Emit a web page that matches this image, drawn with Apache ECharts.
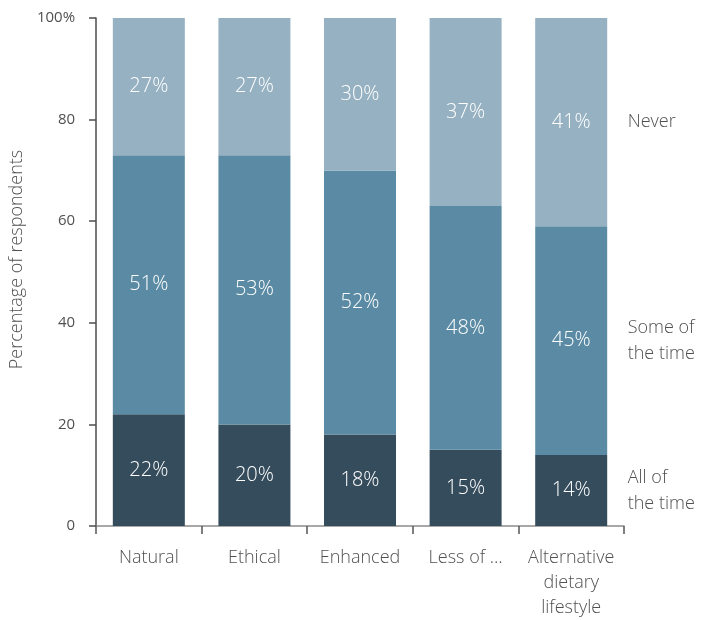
<!DOCTYPE html>
<html>
<head>
<meta charset="utf-8">
<style>
  html, body { margin: 0; padding: 0; background: #fff; overflow: hidden; }
  #chart { width: 721px; height: 620px; }
</style>
<script src="https://cdn.jsdelivr.net/npm/echarts@6/dist/echarts.min.js"></script>
</head>
<body>
<div id="chart"></div>
<script>
// Categories along the x axis
const categories = ['Natural', 'Ethical', 'Enhanced', 'Less of …', 'Alternative\ndietary\nlifestyle'];

// Share of respondents per answer (percent)
const allOfTheTime = [22, 20, 18, 15, 14];
const someOfTheTime = [51, 53, 52, 48, 45];
const never = [27, 27, 30, 37, 41];

const seriesNames = ['All of the time', 'Some of the time', 'Never'];
const sideLabels = ['All of\nthe time', 'Some of\nthe time', 'Never'];
const colors = ['#354c5c', '#5b8ba4', '#96b1c2'];

const textColor = '#505050';
const fontFamily = '"Open Sans", "Noto Sans", sans-serif';
const lightWeight = 300;

const seriesData = [allOfTheTime, someOfTheTime, never];

// Side labels sit beside the last bar at the middle of each segment
const lastIdx = categories.length - 1;
let running = 0;
const sidePoints = seriesData.map((vals, i) => {
  const mid = running + vals[lastIdx] / 2;
  running += vals[lastIdx];
  return { coord: [lastIdx, mid], value: sideLabels[i] };
});

const series = seriesData.map((vals, i) => ({
  name: seriesNames[i],
  type: 'bar',
  stack: 'total',
  barWidth: 72,
  data: vals,
  itemStyle: { color: colors[i] },
  label: {
    show: true,
    position: 'inside',
    formatter: p => p.value + '%',
    color: '#ffffff',
    fontSize: 20,
    fontWeight: lightWeight,
    fontFamily: fontFamily
  },
  emphasis: { disabled: true },
  silent: true
}));

series[0].markPoint = {
  symbol: 'circle',
  symbolSize: 1,
  itemStyle: { color: 'rgba(0,0,0,0)' },
  silent: true,
  label: {
    show: true,
    position: 'right',
    distance: 56,
    formatter: p => p.value,
    color: textColor,
    fontSize: 18,
    fontWeight: lightWeight,
    lineHeight: 26,
    align: 'left',
    fontFamily: fontFamily
  },
  data: sidePoints
};

const chart = echarts.init(document.getElementById('chart'), null, { renderer: 'canvas' });
chart.setOption({
  animation: false,
  backgroundColor: '#ffffff',
  grid: { left: 96, right: 97, top: 18, bottom: 91, containLabel: false },
  xAxis: {
    type: 'category',
    data: categories,
    axisLine: { show: true, lineStyle: { color: '#8c8c8c', width: 1.5 } },
    axisTick: { show: true, alignWithLabel: false, length: 8, lineStyle: { color: '#555555', width: 1.5 } },
    axisLabel: {
      color: textColor,
      fontSize: 18,
      fontWeight: lightWeight,
      lineHeight: 25,
      margin: 19,
      interval: 0,
      fontFamily: fontFamily
    }
  },
  yAxis: {
    type: 'value',
    min: 0,
    max: 100,
    interval: 20,
    name: 'Percentage of respondents',
    nameLocation: 'middle',
    nameGap: 59,
    nameTextStyle: { color: textColor, fontSize: 18, fontWeight: lightWeight, fontFamily: fontFamily, padding: [0, 0, 0, 25] },
    splitLine: { show: false },
    axisLine: { show: true, lineStyle: { color: '#4d4d4d', width: 1.5 } },
    axisTick: { show: true, length: 7, lineStyle: { color: '#4d4d4d', width: 1.5 } },
    axisLabel: {
      color: textColor,
      fontSize: 15,
      margin: 21,
      fontFamily: fontFamily,
      formatter: v => (v === 100 ? '100%' : String(v))
    }
  },
  series: series
});
</script>
</body>
</html>
